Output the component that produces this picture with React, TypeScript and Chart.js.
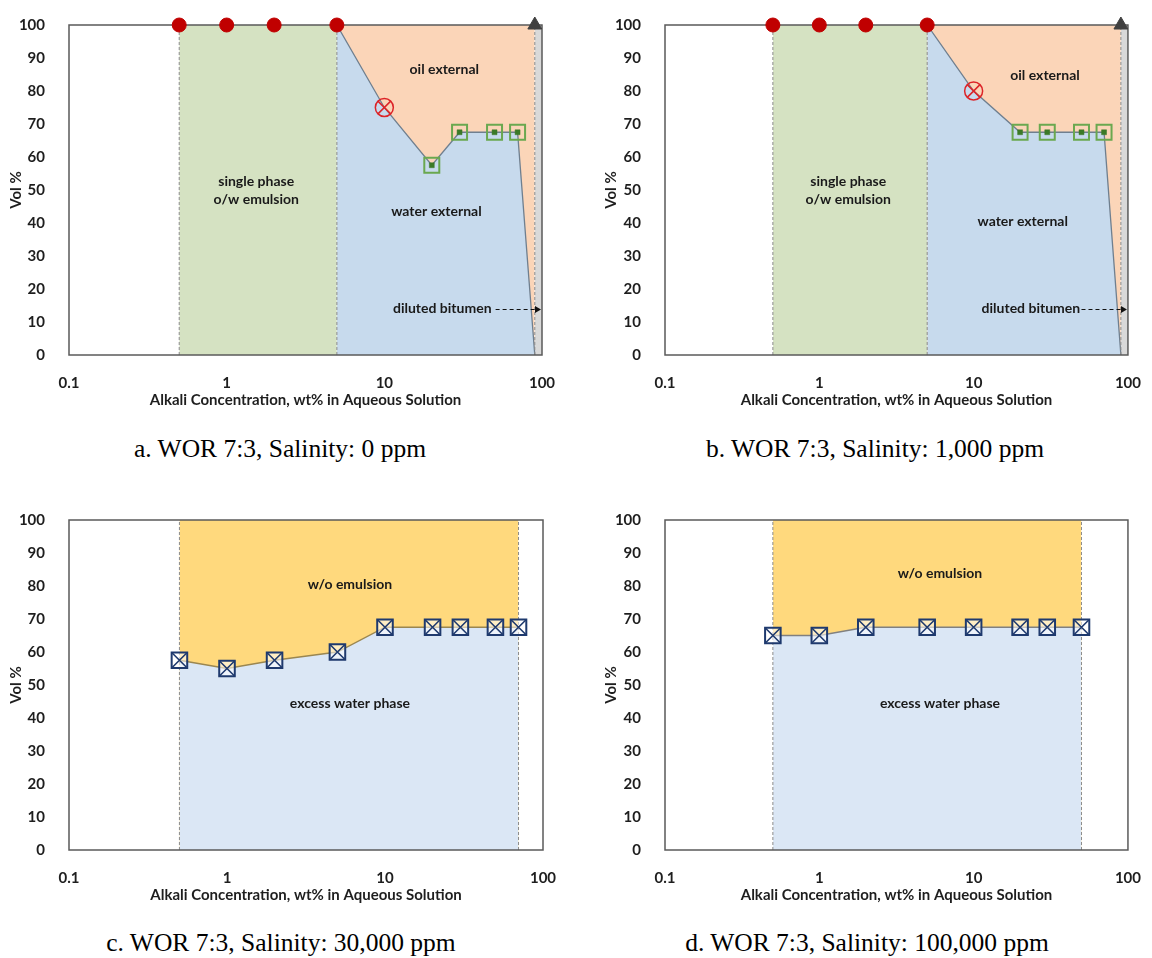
import React, { useEffect, useRef } from "react";
import { Chart, registerables } from "chart.js";

Chart.register(...registerables);

// ---------- shared axis data ----------
const xTickValues = [0.1, 1, 10, 100];
const xTickLabels = ["0.1", "1", "10", "100"];
const yMin = 0;
const yMax = 100;
const yStep = 10;
const xTitle = "Alkali Concentration, wt% in Aqueous Solution";
const yTitle = "Vol %";

// ---------- panel a: WOR 7:3, Salinity 0 ppm ----------
const aCircleX = [0.5, 1, 2, 5];
const aCircleY = [100, 100, 100, 100];
const aCrossX = [10];
const aCrossY = [75];
const aSquareX = [20, 30, 50, 70];
const aSquareY = [57.5, 67.5, 67.5, 67.5];
const aTriangleX = [90];
const aTriangleY = [100];
const aBoundaryX = [5, 10, 20, 30, 50, 70, 90];
const aBoundaryY = [100, 75, 57.5, 67.5, 67.5, 67.5, 0];
const aZoneEdges = [0.5, 5, 90, 100];

// ---------- panel b: WOR 7:3, Salinity 1,000 ppm ----------
const bCircleX = [0.5, 1, 2, 5];
const bCircleY = [100, 100, 100, 100];
const bCrossX = [10];
const bCrossY = [80];
const bSquareX = [20, 30, 50, 70];
const bSquareY = [67.5, 67.5, 67.5, 67.5];
const bTriangleX = [90];
const bTriangleY = [100];
const bBoundaryX = [5, 10, 20, 30, 50, 70, 90];
const bBoundaryY = [100, 80, 67.5, 67.5, 67.5, 67.5, 0];
const bZoneEdges = [0.5, 5, 90, 100];

// ---------- panel c: WOR 7:3, Salinity 30,000 ppm ----------
const cX = [0.5, 1, 2, 5, 10, 20, 30, 50, 70];
const cY = [57.5, 55, 57.5, 60, 67.5, 67.5, 67.5, 67.5, 67.5];
const cZoneEdges = [0.5, 70];

// ---------- panel d: WOR 7:3, Salinity 100,000 ppm ----------
const dX = [0.5, 1, 2, 5, 10, 20, 30, 50];
const dY = [65, 65, 67.5, 67.5, 67.5, 67.5, 67.5, 67.5];
const dZoneEdges = [0.5, 50];

const captions = [
  "a. WOR 7:3, Salinity: 0 ppm",
  "b. WOR 7:3, Salinity: 1,000 ppm",
  "c. WOR 7:3, Salinity: 30,000 ppm",
  "d. WOR 7:3, Salinity: 100,000 ppm",
];

// ---------- styles ----------
const FONT = "Lato, 'Open Sans', sans-serif";
const TXT = "#1e1e1e";
const GREEN_ZONE = "#d5e2c2";
const ORANGE_ZONE = "#fbd5b8";
const BLUE_ZONE = "#c7daed";
const GREY_ZONE = "#d9d9d9";
const YELLOW_ZONE = "#ffd97d";
const BLUE_ZONE2 = "#dbe7f5";
const BOUND_LINE = "#6f7f8f";
const DASH_LINE = "#8c8c8c";
const RED = "#c00000";
const RED2 = "#dc2428";
const GREEN_M = "#6aa84f";
const GREEN_D = "#3b7a27";
const NAVY = "#1f3a6e";

const pts = (xs: number[], ys: number[]) => xs.map((x, i) => ({ x, y: ys[i] }));

const area = (x0: number, x1: number, color: string, order: number) => ({
  data: [{ x: x0, y: yMax }, { x: x1, y: yMax }],
  fill: "origin",
  backgroundColor: color,
  borderWidth: 0,
  pointRadius: 0,
  order,
});

const vline = (x: number, order: number, extra: any = {}) => ({
  data: [{ x, y: yMin }, { x, y: yMax }],
  fill: false,
  borderColor: DASH_LINE,
  borderWidth: 1,
  borderDash: [3, 2],
  pointRadius: 0,
  order,
  ...extra,
});

const markers = (xs: number[], ys: number[], style: string, radius: number, bg: string, border: string, bw: number, order: number) => ({
  data: pts(xs, ys),
  showLine: false,
  pointStyle: style,
  pointRadius: radius,
  pointBackgroundColor: bg,
  pointBorderColor: border,
  pointBorderWidth: bw,
  order,
  clip: false,
});

function emulsionDatasets(
  circX: number[], circY: number[], crossX: number[], crossY: number[],
  sqX: number[], sqY: number[], triX: number[], triY: number[],
  bX: number[], bY: number[], edges: number[]
) {
  const [e0, e1, e2, e3] = edges;
  return [
    area(e2, e3, GREY_ZONE, 100),
    area(e1, e2, ORANGE_ZONE, 99),
    area(e0, e1, GREEN_ZONE, 98),
    {
      data: pts(bX, bY),
      fill: "origin",
      backgroundColor: BLUE_ZONE,
      borderColor: BOUND_LINE,
      borderWidth: 1.3,
      pointRadius: 0,
      order: 97,
    },
    vline(e0, 92),
    vline(e1, 91),
    vline(e2, 90, { frameAfter: true }),
    markers(circX, circY, "circle", 7, RED, RED, 1, 6),
    markers(crossX, crossY, "circle", 9, "rgba(0,0,0,0)", RED2, 1.5, 5),
    markers(crossX, crossY, "crossRot", 9, "rgba(0,0,0,0)", RED2, 1.5, 4),
    markers(sqX, sqY, "rect", 10.6, "rgba(0,0,0,0)", GREEN_M, 2, 5),
    markers(sqX, sqY, "rect", 3.5, GREEN_D, GREEN_D, 0.5, 4),
    markers(triX, triY, "triangle", 8, "#404040", "#404040", 1, 3),
  ];
}

function salineDatasets(xs: number[], ys: number[], edges: number[], lineColor: string) {
  const [e0, e1] = edges;
  return [
    area(e0, e1, YELLOW_ZONE, 100),
    {
      data: pts(xs, ys),
      fill: "origin",
      backgroundColor: BLUE_ZONE2,
      borderColor: lineColor,
      borderWidth: 1.3,
      pointRadius: 0,
      order: 97,
    },
    vline(e0, 91),
    vline(e1, 90, { frameAfter: true }),
    markers(xs, ys, "rect", 11, "rgba(255,255,255,0.55)", NAVY, 2, 5),
    markers(xs, ys, "crossRot", 11, "rgba(0,0,0,0)", NAVY, 1.6, 4),
  ];
}

type Label = { lines: string[]; x: number; y: number };
type Arrow = { x1: number; x2: number; y: number } | null;

const panels = [
  {
    left: 0, top: 0, yAxisWidth: 69, padRight: 34, padTop: 20, yTitlePad: 8,
    datasets: emulsionDatasets(aCircleX, aCircleY, aCrossX, aCrossY, aSquareX, aSquareY, aTriangleX, aTriangleY, aBoundaryX, aBoundaryY, aZoneEdges),
    labels: [
      { lines: ["oil external"], x: 24, y: 86.5 },
      { lines: ["water external"], x: 21.4, y: 43.5 },
      { lines: ["single phase", "o/w emulsion"], x: 1.54, y: 50 },
      { lines: ["diluted bitumen"], x: 23.3, y: 14 },
    ] as Label[],
    arrow: { x1: 50.8, x2: 100, y: 14 } as Arrow,
    caption: captions[0], capX: 280, capTop: 434,
  },
  {
    left: 576, top: 0, yAxisWidth: 89, padRight: 14, padTop: 21, yTitlePad: 27,
    datasets: emulsionDatasets(bCircleX, bCircleY, bCrossX, bCrossY, bSquareX, bSquareY, bTriangleX, bTriangleY, bBoundaryX, bBoundaryY, bZoneEdges),
    labels: [
      { lines: ["oil external"], x: 29, y: 84.6 },
      { lines: ["water external"], x: 20.8, y: 40.6 },
      { lines: ["single phase", "o/w emulsion"], x: 1.54, y: 50 },
      { lines: ["diluted bitumen"], x: 23.5, y: 14 },
    ] as Label[],
    arrow: { x1: 50, x2: 100, y: 14 } as Arrow,
    caption: captions[1], capX: 875, capTop: 434,
  },
  {
    left: 0, top: 495, yAxisWidth: 69, padRight: 33, padTop: 20, yTitlePad: 8,
    datasets: salineDatasets(cX, cY, cZoneEdges, "#9a8650"),
    labels: [
      { lines: ["w/o emulsion"], x: 6.0, y: 80.6 },
      { lines: ["excess water phase"], x: 6.0, y: 44.5 },
    ] as Label[],
    arrow: null as Arrow,
    caption: captions[2], capX: 281, capTop: 928,
  },
  {
    left: 576, top: 495, yAxisWidth: 89, padRight: 14, padTop: 20, yTitlePad: 27,
    datasets: salineDatasets(dX, dY, dZoneEdges, "#808080"),
    labels: [
      { lines: ["w/o emulsion"], x: 6.05, y: 83.8 },
      { lines: ["excess water phase"], x: 6.05, y: 44.5 },
    ] as Label[],
    arrow: null as Arrow,
    caption: captions[3], capX: 867, capTop: 928,
  },
];

function makeDecorPlugin(labels: Label[], arrow: Arrow) {
  return {
    id: "panelDecor",
    afterDatasetDraw(chart: any, args: any) {
      const ds = chart.data.datasets[args.index];
      if (!ds || !ds.frameAfter) return;
      const { left, top, right, bottom } = chart.chartArea;
      const ctx = chart.ctx;
      ctx.save();
      ctx.strokeStyle = "#5a5a5a";
      ctx.lineWidth = 1.5;
      ctx.strokeRect(left, top, right - left, bottom - top);
      ctx.restore();
    },
    afterDatasetsDraw(chart: any) {
      const ctx = chart.ctx;
      const xs = chart.scales.x;
      const ys = chart.scales.y;
      ctx.save();
      ctx.fillStyle = "#1a1a1a";
      ctx.font = `bold 14px ${FONT}`;
      ctx.textAlign = "center";
      ctx.textBaseline = "middle";
      for (const l of labels) {
        const px = xs.getPixelForValue(l.x);
        const py = ys.getPixelForValue(l.y);
        const n = l.lines.length;
        l.lines.forEach((t, i) => {
          ctx.fillText(t, px, py + (i - (n - 1) / 2) * 18);
        });
      }
      if (arrow) {
        const y = Math.round(ys.getPixelForValue(arrow.y)) + 0.5;
        const x1 = xs.getPixelForValue(arrow.x1);
        const x2 = xs.getPixelForValue(arrow.x2) - 1;
        ctx.strokeStyle = "#111";
        ctx.lineWidth = 1;
        ctx.setLineDash([4, 3]);
        ctx.beginPath();
        ctx.moveTo(x1, y);
        ctx.lineTo(x2 - 5, y);
        ctx.stroke();
        ctx.setLineDash([]);
        ctx.fillStyle = "#111";
        ctx.beginPath();
        ctx.moveTo(x2, y);
        ctx.lineTo(x2 - 6, y - 3.5);
        ctx.lineTo(x2 - 6, y + 3.5);
        ctx.closePath();
        ctx.fill();
      }
      ctx.restore();
    },
  };
}

function Panel({ cfg }: { cfg: (typeof panels)[number] }) {
  const ref = useRef<HTMLCanvasElement | null>(null);
  useEffect(() => {
    if (!ref.current) return;
    const tickFont = { family: FONT, size: 15, weight: "bold" as const };
    const chart = new Chart(ref.current, {
      type: "line",
      data: { datasets: cfg.datasets as any },
      options: {
        animation: false,
        responsive: false,
        events: [],
        elements: { line: { tension: 0 } },
        layout: { padding: { left: 0, right: cfg.padRight, top: cfg.padTop, bottom: 0 } },
        plugins: { legend: { display: false }, tooltip: { enabled: false } },
        scales: {
          x: {
            type: "logarithmic",
            min: xTickValues[0],
            max: xTickValues[xTickValues.length - 1],
            grid: { display: false },
            border: { display: false },
            afterBuildTicks: (s: any) => {
              s.ticks = xTickValues.map((v) => ({ value: v }));
            },
            afterFit: (s: any) => {
              s.height = 65;
            },
            ticks: {
              autoSkip: false,
              maxRotation: 0,
              padding: 11,
              color: TXT,
              font: tickFont,
              callback: (_v: any, i: number) => xTickLabels[i],
            },
            title: {
              display: true,
              text: xTitle,
              color: TXT,
              font: tickFont,
              padding: { top: 0, bottom: 11 },
            },
          },
          y: {
            type: "linear",
            min: yMin,
            max: yMax,
            grid: { display: false },
            border: { display: false },
            afterFit: (s: any) => {
              s.width = cfg.yAxisWidth;
            },
            ticks: { stepSize: yStep, padding: 16, color: TXT, font: tickFont },
            title: {
              display: true,
              text: yTitle,
              color: TXT,
              font: tickFont,
              padding: { top: cfg.yTitlePad - 1, bottom: 0 },
            },
          },
        },
      } as any,
      plugins: [makeDecorPlugin(cfg.labels, cfg.arrow)],
    });
    return () => chart.destroy();
  }, []);
  return (
    <>
      <canvas
        ref={ref}
        width={576}
        height={420}
        style={{ position: "absolute", left: cfg.left, top: cfg.top, width: 576, height: 420, display: "block" }}
      />
      <div
        style={{
          position: "absolute",
          left: cfg.capX - 250,
          top: cfg.capTop,
          width: 500,
          textAlign: "center",
          fontFamily: "'Liberation Serif', 'Times New Roman', serif",
          fontSize: 25.5,
          lineHeight: "30px",
          color: "#000",
          whiteSpace: "nowrap",
        }}
      >
        {cfg.caption}
      </div>
    </>
  );
}

export default function App() {
  return (
    <div style={{ position: "absolute", left: 0, top: 0, width: 1152, height: 958, background: "#fff", overflow: "hidden" }}>
      {panels.map((p, i) => (
        <Panel key={i} cfg={p} />
      ))}
    </div>
  );
}
